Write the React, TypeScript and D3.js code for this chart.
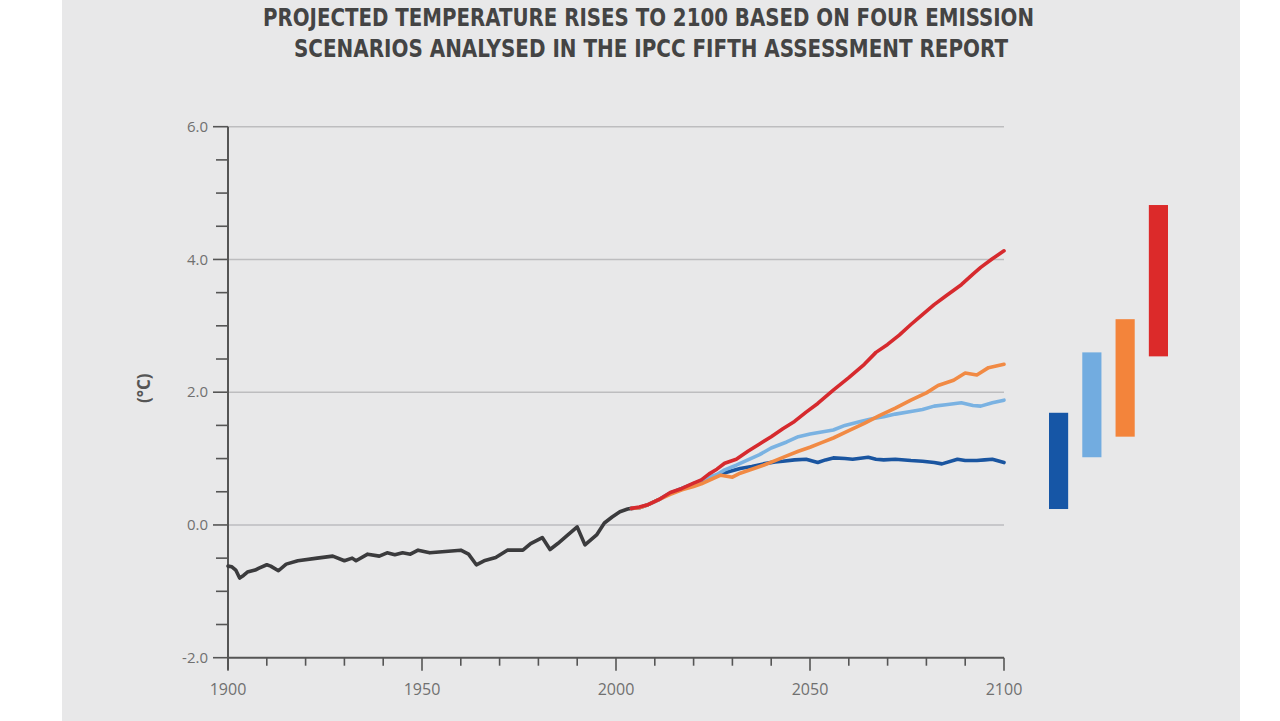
import React from "react";
import * as d3 from "d3";

const titleLines = [
  "PROJECTED TEMPERATURE RISES TO 2100 BASED ON FOUR EMISSION",
  "SCENARIOS ANALYSED IN THE IPCC FIFTH ASSESSMENT REPORT",
];

const yTicks = [-2, 0, 2, 4, 6];
const xTicks = [1900, 1950, 2000, 2050, 2100];

type Pt = [number, number];

const historical: Pt[] = [
  [1900, -0.62], [1901, -0.63], [1902, -0.68], [1903, -0.8], [1904, -0.76], [1905, -0.71],
  [1907, -0.68], [1908, -0.65], [1910, -0.6], [1911, -0.62], [1913, -0.69], [1915, -0.59],
  [1918, -0.54], [1923, -0.5], [1927, -0.47], [1930, -0.54], [1932, -0.5], [1933, -0.54],
  [1936, -0.44], [1939, -0.47], [1941, -0.42], [1943, -0.45], [1945, -0.42], [1947, -0.44],
  [1949, -0.38], [1952, -0.42], [1956, -0.4], [1960, -0.38], [1962, -0.44], [1964, -0.6],
  [1966, -0.54], [1969, -0.49], [1972, -0.38], [1976, -0.38], [1978, -0.28], [1981, -0.19],
  [1983, -0.37], [1985, -0.28], [1987, -0.18], [1990, -0.03], [1992, -0.3], [1995, -0.15],
  [1997, 0.03], [1999, 0.12], [2001, 0.2], [2003, 0.24], [2004, 0.25],
];

const rcp26: Pt[] = [
  [2004, 0.25], [2006, 0.26], [2008, 0.3], [2011, 0.38], [2014, 0.48], [2017, 0.55],
  [2020, 0.62], [2023, 0.68], [2026, 0.75], [2029, 0.8], [2032, 0.85], [2035, 0.88],
  [2038, 0.92], [2041, 0.95], [2043, 0.96], [2046, 0.98], [2049, 0.99], [2052, 0.94],
  [2054, 0.98], [2056, 1.01], [2059, 1.0], [2061, 0.99], [2065, 1.02], [2067, 0.99],
  [2069, 0.98], [2072, 0.99], [2076, 0.97], [2079, 0.96], [2082, 0.94], [2084, 0.92],
  [2088, 0.99], [2090, 0.97], [2093, 0.97], [2095, 0.98], [2097, 0.99], [2100, 0.94],
];

const rcp45: Pt[] = [
  [2004, 0.25], [2006, 0.26], [2008, 0.3], [2011, 0.38], [2014, 0.48], [2017, 0.55],
  [2020, 0.62], [2023, 0.7], [2026, 0.76], [2028, 0.83], [2031, 0.9], [2034, 0.98],
  [2037, 1.06], [2040, 1.16], [2044, 1.25], [2047, 1.33], [2050, 1.37], [2053, 1.4],
  [2056, 1.43], [2059, 1.5], [2063, 1.56], [2066, 1.6], [2069, 1.63], [2072, 1.67],
  [2076, 1.71], [2079, 1.74], [2082, 1.79], [2085, 1.81], [2089, 1.84], [2092, 1.8],
  [2094, 1.79], [2097, 1.84], [2100, 1.88],
];

const rcp60: Pt[] = [
  [2004, 0.25], [2006, 0.26], [2008, 0.3], [2011, 0.38], [2014, 0.46], [2017, 0.53],
  [2020, 0.58], [2022, 0.62], [2025, 0.7], [2027, 0.75], [2030, 0.72], [2032, 0.78],
  [2035, 0.84], [2038, 0.9], [2041, 0.97], [2044, 1.04], [2047, 1.11], [2050, 1.17],
  [2053, 1.24], [2056, 1.31], [2060, 1.42], [2064, 1.53], [2068, 1.65], [2072, 1.76],
  [2076, 1.88], [2080, 1.99], [2083, 2.1], [2087, 2.18], [2090, 2.29], [2093, 2.26],
  [2096, 2.37], [2100, 2.42],
];

const rcp85: Pt[] = [
  [2004, 0.25], [2006, 0.27], [2008, 0.3], [2011, 0.38], [2014, 0.49], [2017, 0.55],
  [2020, 0.63], [2022, 0.68], [2024, 0.77], [2026, 0.84], [2028, 0.93], [2031, 0.99],
  [2034, 1.11], [2037, 1.22], [2040, 1.33], [2043, 1.45], [2046, 1.56], [2049, 1.7],
  [2052, 1.83], [2056, 2.03], [2060, 2.22], [2064, 2.42], [2067, 2.6], [2070, 2.72],
  [2073, 2.86], [2076, 3.02], [2078, 3.12], [2082, 3.32], [2085, 3.45], [2089, 3.62],
  [2092, 3.78], [2094, 3.88], [2097, 4.01], [2100, 4.13],
];

const scenarioNames = ["RCP2.6", "RCP4.5", "RCP6.0", "RCP8.5"];
const rangeLow = [0.24, 1.02, 1.33, 2.54];
const rangeHigh = [1.69, 2.6, 3.1, 4.82];
const scenarioColors = ["#1656a6", "#72ace0", "#f3843b", "#dc2a2a"];
const lineColors = ["#1a55a0", "#7ab2e2", "#f18a44", "#d62a2e"];
const scenarioSeries = [rcp26, rcp45, rcp60, rcp85];

export default function App() {
  const W = 1280;
  const H = 721;
  const x = d3.scaleLinear().domain([1900, 2100]).range([228, 1004]);
  const y = d3.scaleLinear().domain([-2, 6]).range([657.7, 126.7]);
  const band = d3
    .scaleBand<string>()
    .domain(scenarioNames)
    .range([1049, 1168])
    .paddingInner(14 / 33)
    .paddingOuter(0);

  const line = d3
    .line<Pt>()
    .x((d) => x(d[0]))
    .y((d) => y(d[1]))
    .curve(d3.curveLinear);

  const yMinor = d3.range(-2, 6.001, 0.5);
  const xMinor = d3.range(1900, 2100.001, 10);

  const axisColor = "#555";
  const labelColor = "#707070";

  return (
    <div style={{ position: "absolute", left: 0, top: 0, width: W, height: H }}>
      <svg width={W} height={H} style={{ display: "block" }}>
        <rect x={0} y={0} width={W} height={H} fill="#ffffff" />
        <rect x={62} y={0} width={1178} height={H} fill="#e8e8e9" />

        {titleLines.map((t, i) => (
          <text
            key={i}
            x={i === 0 ? 648.5 : 651}
            y={i === 0 ? 26 : 57}
            textAnchor="middle"
            textLength={i === 0 ? 771 : 714}
            lengthAdjust="spacingAndGlyphs"
            style={{
              fontFamily: "'Liberation Sans Narrow', 'DejaVu Sans Condensed', Roboto, sans-serif",
              fontWeight: 700,
              fontSize: 25,
              fill: "#444",
            }}
          >
            {t}
          </text>
        ))}

        {/* gridlines */}
        {yTicks
          .filter((v) => v > -2)
          .map((v) => (
            <line
              key={"g" + v}
              x1={x(1900)}
              x2={x(2100)}
              y1={y(v)}
              y2={y(v)}
              stroke="#bdbdbf"
              strokeWidth={1.6}
            />
          ))}

        {/* y axis */}
        <line x1={x(1900)} x2={x(1900)} y1={y(6)} y2={y(-2) + 12} stroke={axisColor} strokeWidth={2} />
        {yMinor.map((v) => (
          <line
            key={"yt" + v}
            x1={x(1900) - (yTicks.includes(v) ? 15 : 12)}
            x2={x(1900)}
            y1={y(v)}
            y2={y(v)}
            stroke={axisColor}
            strokeWidth={1.6}
          />
        ))}
        {yTicks.map((v) => (
          <text
            key={"yl" + v}
            x={x(1900) - 20}
            y={y(v)}
            dy="0.35em"
            textAnchor="end"
            style={{ fontFamily: "'Open Sans', sans-serif", fontSize: 15, fill: labelColor }}
          >
            {d3.format(".1f")(v).replace("−", "-")}
          </text>
        ))}
        <text
          transform={`translate(150,${y(2) - 4}) rotate(-90)`}
          textAnchor="middle"
          style={{ fontFamily: "'Open Sans', sans-serif", fontSize: 17, fontWeight: 700, fill: "#555" }}
        >
          (°C)
        </text>

        {/* x axis */}
        <line x1={x(1900)} x2={x(2100)} y1={y(-2)} y2={y(-2)} stroke={axisColor} strokeWidth={2} />
        {xMinor.map((v) => (
          <line
            key={"xt" + v}
            x1={x(v)}
            x2={x(v)}
            y1={y(-2)}
            y2={y(-2) + (xTicks.includes(v) ? 13 : 8)}
            stroke={axisColor}
            strokeWidth={1.6}
          />
        ))}
        {xTicks.map((v) => (
          <text
            key={"xl" + v}
            x={x(v)}
            y={695}
            textAnchor="middle"
            style={{ fontFamily: "'Open Sans', sans-serif", fontSize: 16, fill: labelColor }}
          >
            {v}
          </text>
        ))}

        {/* lines */}
        <path d={line(historical) || ""} fill="none" stroke="#3b3b3d" strokeWidth={3.6} strokeLinejoin="round" strokeLinecap="round" />
        {scenarioSeries.map((s, i) => (
          <path
            key={"s" + i}
            d={line(s) || ""}
            fill="none"
            stroke={lineColors[i]}
            strokeWidth={3.6}
            strokeLinejoin="round"
            strokeLinecap="round"
          />
        ))}

        {/* range bars */}
        {scenarioNames.map((n, i) => (
          <rect
            key={"b" + n}
            x={band(n)}
            width={band.bandwidth()}
            y={y(rangeHigh[i])}
            height={y(rangeLow[i]) - y(rangeHigh[i])}
            fill={scenarioColors[i]}
          />
        ))}
      </svg>
    </div>
  );
}
